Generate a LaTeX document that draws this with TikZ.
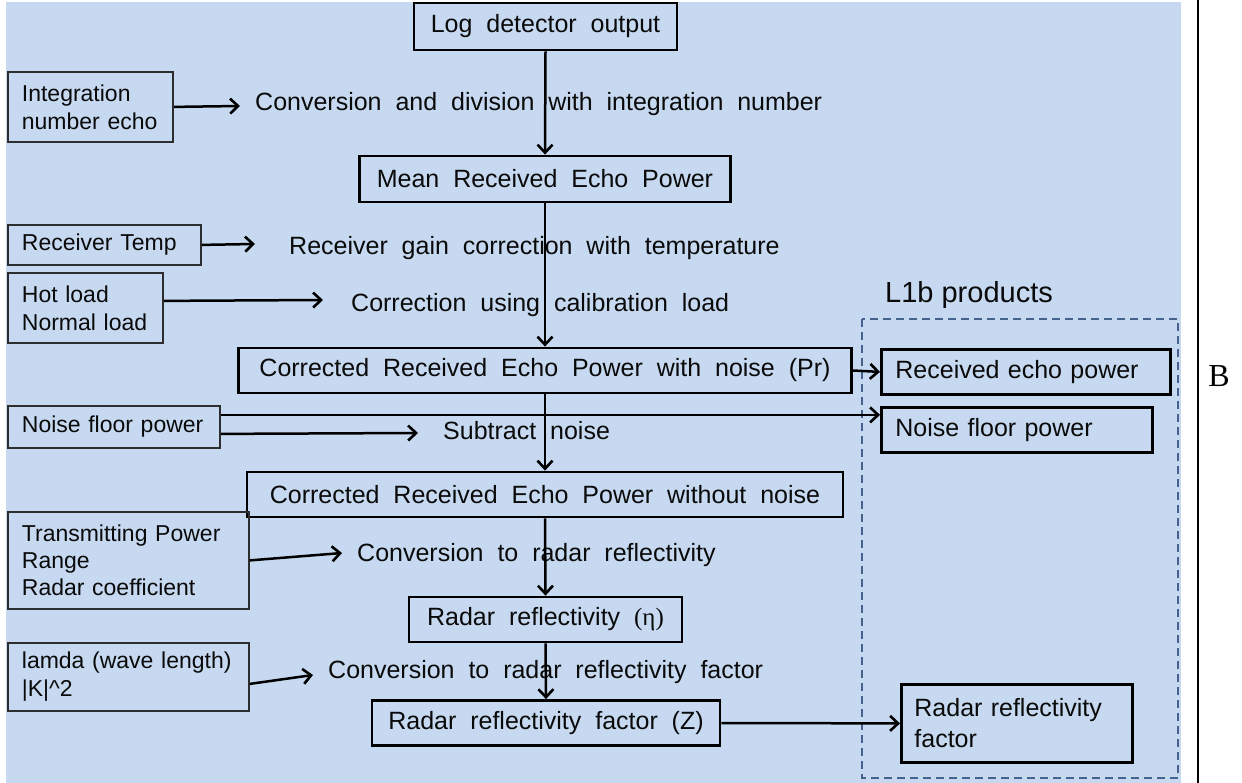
\documentclass[tikz,border=0pt]{standalone}
\usepackage{fontspec}
\setmainfont{Liberation Sans}
\newfontfamily\widefont{Liberation Sans}[WordSpace=2]
\newfontfamily\timesf{Liberation Serif}
\usetikzlibrary{arrows.meta}
\definecolor{bgblue}{RGB}{198,217,240}
\definecolor{dashblue}{RGB}{68,98,140}
\definecolor{lboxgray}{RGB}{45,45,45}
\definecolor{txt}{RGB}{10,10,10}
\tikzset{
  mbox/.style={draw=black, line width=2.8pt, inner sep=0pt, text=txt,
    font=\widefont\fontsize{25}{30}\selectfont},
  lbox/.style={draw=lboxgray, line width=1.8pt, anchor=north west, inner xsep=14pt, inner ysep=0pt,
    align=left, text=txt, font=\fontsize{23}{28}\selectfont},
  rbox/.style={draw=black, line width=2.8pt, anchor=north west, inner xsep=14pt, inner ysep=0pt,
    align=left, text=txt, font=\widefont\fontsize{25}{31}\selectfont},
  flowtext/.style={anchor=base west, inner sep=0pt, text=txt,
    font=\widefont\fontsize{25}{30}\selectfont},
  arr/.style={line width=2.5pt, black, -{Straight Barb[length=8pt,width=15pt,line width=2.6pt]}},
}
\begin{document}
\begin{tikzpicture}[x=1pt,y=-1pt]
\useasboundingbox (0,0) rectangle (1242,783);
\fill[bgblue] (6,2) rectangle (1181,783);
\draw[line width=1.6pt] (1198,0) -- (1198,783);
\node[font=\timesf\fontsize{32}{36}\selectfont, inner sep=0pt] (blabel) at (1219,376) {B};

% main boxes
\node[mbox, minimum width=263pt, minimum height=47pt] (b1) at (545.5,26.5) {Log detector output};
\node[mbox, minimum width=371pt, minimum height=46pt] (b2) at (545,179) {Mean Received Echo Power};
\node[mbox, minimum width=613pt, minimum height=45pt] (b3) at (545,370.5) {Corrected Received Echo Power with noise (Pr)};
\node[mbox, minimum width=596pt, minimum height=45pt] (b4) at (545,494.5) {Corrected Received Echo Power without noise};
\node[mbox, minimum width=273pt, minimum height=45pt] (b5) at (545.5,619.5) {Radar reflectivity {\timesf(η)}};
\node[mbox, minimum width=348pt, minimum height=45pt] (b6) at (546,723) {Radar reflectivity factor (Z)};

% left input boxes
\node[lbox, text width=137pt, minimum height=70pt] (l1) at (7,71) {Integration\\number echo};
\node[lbox, text width=165pt, minimum height=40pt] (l2) at (7,224) {Receiver Temp};
\node[lbox, text width=127pt, minimum height=70pt] (l3) at (7,272) {Hot load\\Normal load};
\node[lbox, text width=184pt, minimum height=42pt] (l4) at (7,405) {Noise floor power};
\node[lbox, text width=213pt, minimum height=97pt, font=\fontsize{23}{27}\selectfont] (l5) at (7,511) {Transmitting Power\\Range\\Radar coefficient};
\node[lbox, text width=213pt, minimum height=68pt] (l6) at (7,642) {lamda (wave length)\\|K|\^{}2};

% flow texts
\node[flowtext] (t1) at (255,111) {Conversion and division with integration number};
\node[flowtext] (t2) at (289,255) {Receiver gain correction with temperature};
\node[flowtext] (t3) at (351,312) {Correction using calibration load};
\node[flowtext] (t4) at (443,439) {Subtract noise};
\node[flowtext] (t5) at (357,561) {Conversion to radar reflectivity};
\node[flowtext] (t6) at (328,678) {Conversion to radar reflectivity factor};

% L1b products
\draw[dashblue, line width=2.2pt, dash pattern=on 8pt off 5pt] (862,319) rectangle (1178,778);
\node[anchor=base west, inner sep=0pt, text=txt, font=\fontsize{29}{34}\selectfont] (l1b) at (885,303) {L1b products};
\node[rbox, text width=261pt, minimum height=45pt] (r1) at (880,348) {Received echo power};
\node[rbox, text width=243pt, minimum height=45pt] (r2) at (880,406) {Noise floor power};
\node[rbox, text width=205pt, minimum height=78pt, inner xsep=13pt] (r3) at (900,683) {Radar reflectivity\\factor};

% free arrow ends
\coordinate (e1) at (240,106);
\coordinate (e2) at (255,244);
\coordinate (e3) at (323,300);
\coordinate (e4) at (418,433);
\coordinate (e5) at (342,553);
\coordinate (e6) at (313,675);

% connectors
\draw[arr] (b1.south) -- (b2.north);
\draw[arr] (b2.south) -- (b3.north);
\draw[arr] (b3.south) -- (b4.north);
\draw[arr] (b4.south) -- (b5.north);
\draw[arr] (b5.south) -- (b6.north);
\draw[arr] (l1.east) -- (e1);
\draw[arr] (l2.east) -- (e2);
\draw[arr] ([yshift=7pt]l3.east) -- (e3);
\draw[arr] ([yshift=12pt]l4.east) -- ([yshift=12pt]l4.east -| r2.west);
\draw[arr] ([yshift=-7pt]l4.east) -- (e4);
\draw[arr] (l5.east) -- (e5);
\draw[arr] ([yshift=-7pt]l6.east) -- (e6);
\draw[arr] (b3.east) -- (r1.west);
\draw[arr] (b6.east) -- (r3.west);
\end{tikzpicture}
\end{document}
